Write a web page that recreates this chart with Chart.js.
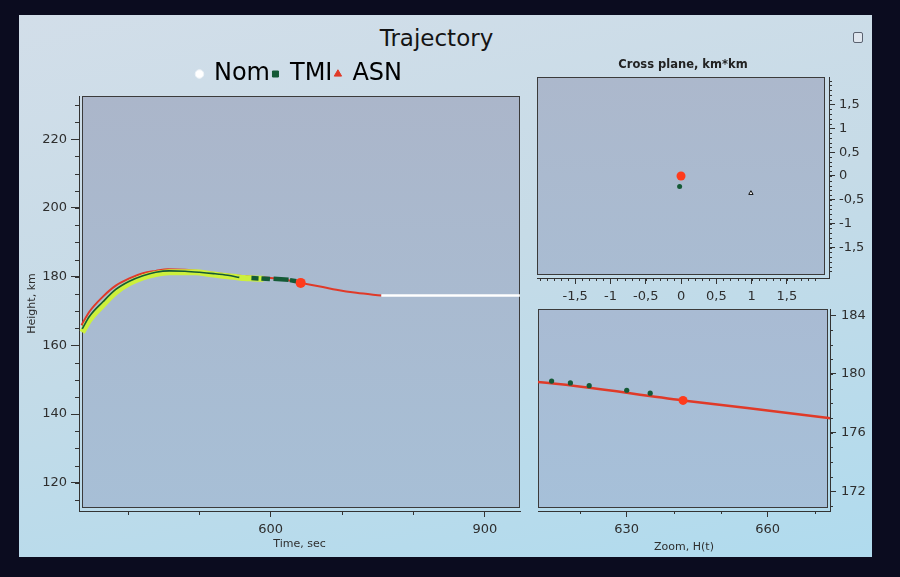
<!DOCTYPE html>
<html>
<head>
<meta charset="utf-8">
<title>Trajectory</title>
<script src="https://cdn.jsdelivr.net/npm/chart.js@4.4.1/dist/chart.umd.min.js"></script>
<style>
  html, body { margin: 0; padding: 0; }
  body { width: 900px; height: 577px; background: #0b0c1f; position: relative; overflow: hidden; font-family: "DejaVu Sans", sans-serif; }
  #screen { position: absolute; left: 19px; top: 15px; width: 853px; height: 542px;
            background: linear-gradient(168deg, #d2dee9 0%, #c6dbe7 45%, #b0dbee 100%); }
  #title { position: absolute; left: 0; width: 873px; top: 27px; text-align: center;
           font-size: 23px; line-height: 23px; color: #141414; }
  #restore { position: absolute; left: 853px; top: 32px; width: 8px; height: 9px;
             border: 1px solid #5a6270; border-radius: 2px; background: #dfe6ee; }
  canvas { position: absolute; }
</style>
</head>
<body>
<div id="screen"></div>
<div id="title">Trajectory</div>
<div id="restore"></div>
<canvas id="mainChart" width="540" height="577" style="left:0;top:0"></canvas>
<canvas id="crossChart" width="370" height="280" style="left:530px;top:40px"></canvas>
<canvas id="zoomChart" width="370" height="289" style="left:530px;top:288px"></canvas>
<script>
// values (time in sec, height in km)
const nomTime = [755, 949];
const nomHeight = [174.5, 174.5];

const asnTime = [335, 346, 365, 383, 402, 421, 439, 456, 480, 520, 560, 600, 611, 642, 673, 692, 720, 755];
const asnHeight = [165.9, 169.8, 174.2, 177.4, 179.5, 181.0, 181.7, 182.2, 182.0, 181.1, 180.2, 179.6, 179.45, 178.2, 177.0, 176.2, 175.3, 174.5];
const asnNowTime = [642];
const asnNowHeight = [178.2];

// null = gap in the track
const tmiTime = [336, 346, 365, 383, 402, 421, 439, 458, 480, 500, 520, 540, 556, 565, 573, 583, 585, 587, 599, 601, 604, 625, 626, 627, 636];
const tmiHeight = [164.8, 168.4, 172.7, 176.3, 178.7, 180.3, 181.3, 181.7, 181.6, 181.3, 180.9, 180.4, 179.8, null, 179.6, 179.5, null, 179.5, 179.3, null, 179.4, 179.1, null, 179.0, 178.7];

const bandTime = [336, 346, 365, 383, 402, 421, 439, 458, 477, 495, 514, 533, 551, 563, 575, 590];
const bandHeight = [163.8, 167.4, 171.8, 175.5, 178.1, 179.8, 180.8, 181.3, 181.3, 181.3, 180.8, 180.3, 179.9, 179.6, 179.5, 179.4];

const zoomTmiTime = [614, 618, 622, 630, 635];
const zoomTmiHeight = [179.52, 179.39, 179.2, 178.89, 178.69];

const crossAsnX = [0], crossAsnY = [0];
const crossTmiX = [-0.02], crossTmiY = [-0.22];
const crossNomX = [0.99], crossNomY = [-0.36];

// tick labels
const mainTimeTicks = [600, 900];
const mainTimeMinor = [400, 500, 700, 800];
const mainHeightTicks = [120, 140, 160, 180, 200, 220];
const zoomTimeTicks = [630, 660];
const zoomTimeMinor = [620, 640, 650, 670];
const zoomHeightTicks = [172, 176, 180, 184];
const crossTicks = [-1.5, -1, -0.5, 0, 0.5, 1, 1.5];

function steps(from, to, step) {
  const out = [];
  for (let v = from; v <= to + 1e-9; v += step) out.push(Math.round(v * 1000) / 1000);
  return out;
}
function xy(xs, ys) {
  return xs.map((x, i) => ({ x: x, y: ys[i] }));
}

Chart.defaults.font.family = '"DejaVu Sans", sans-serif';
Chart.defaults.color = '#2e2e2e';
Chart.defaults.animation = false;
Chart.defaults.plugins.tooltip.enabled = false;

const RED = '#e03a28', DOT = '#ff3b1c', GREEN = '#145a36', LIME = '#cdf03c';

// plot background + frame, slightly inset from the axis lines
function panel(o) {
  return {
    id: 'panel',
    beforeDraw(chart) {
      const { ctx, chartArea: a } = chart;
      const l = a.left + (o.inL || 0), r = a.right - (o.inR || 0);
      const t = a.top, b = a.bottom - (o.inB || 0);
      const g = ctx.createLinearGradient(0, t, 0, b);
      g.addColorStop(0, o.top);
      g.addColorStop(1, o.bottom);
      ctx.save();
      ctx.fillStyle = g;
      ctx.fillRect(l, t, r - l, b - t);
      ctx.strokeStyle = '#3b3b3b';
      ctx.lineWidth = 1;
      ctx.strokeRect(l + 0.5, t + 0.5, r - l - 1, b - t - 1);
      ctx.restore();
    }
  };
}

// short unlabeled ticks
function minorTicks(map, len) {
  return {
    id: 'minorTicks',
    afterDraw(chart) {
      const ctx = chart.ctx;
      ctx.save();
      ctx.strokeStyle = '#333';
      ctx.lineWidth = 1;
      ctx.beginPath();
      Object.keys(map).forEach(id => {
        const s = chart.scales[id];
        map[id].forEach(v => {
          const p = Math.round(s.getPixelForValue(v)) + 0.5;
          if (s.position === 'bottom') { ctx.moveTo(p, s.top); ctx.lineTo(p, s.top + len); }
          else if (s.position === 'left') { ctx.moveTo(s.right, p); ctx.lineTo(s.right - len, p); }
          else { ctx.moveTo(s.left, p); ctx.lineTo(s.left + len, p); }
        });
      });
      ctx.stroke();
      ctx.restore();
    }
  };
}

function axis(opts) {
  return Object.assign({
    type: 'linear',
    ticks: { autoSkip: false, maxRotation: 0, padding: 5, color: '#2e2e2e', font: { size: 13 } },
    grid: { drawOnChartArea: false, tickLength: 6, color: '#333' },
    border: { color: '#333', width: 1 }
  }, opts);
}
function fixTicks(list) {
  return s => { s.ticks = list.map(v => ({ value: v })); };
}

// main trajectory chart
new Chart(document.getElementById('mainChart'), {
  type: 'line',
  data: {
    datasets: [
      { label: 'ASN now', order: 0, data: xy(asnNowTime, asnNowHeight), showLine: false,
        pointRadius: 5, pointBackgroundColor: DOT, pointBorderWidth: 0 },
      { label: 'TMI', order: 1, data: xy(tmiTime, tmiHeight), borderColor: GREEN, borderWidth: 1.6,
        pointRadius: 0, cubicInterpolationMode: 'monotone', spanGaps: false,
        segment: { borderWidth: c => (c.p0.parsed.x >= 570 ? 4.5 : 1.6) } },
      { label: 'band', order: 2, data: xy(bandTime, bandHeight), borderColor: LIME, borderWidth: 6,
        pointRadius: 0, cubicInterpolationMode: 'monotone' },
      { label: 'Nom', order: 3, data: xy(nomTime, nomHeight), borderColor: '#ffffff', borderWidth: 2.5, pointRadius: 0 },
      { label: 'ASN', order: 4, data: xy(asnTime, asnHeight), borderColor: RED, borderWidth: 2,
        pointRadius: 0, cubicInterpolationMode: 'monotone' }
    ]
  },
  options: {
    responsive: false,
    layout: { padding: { left: 26, right: 20, top: 59, bottom: 26 } },
    scales: {
      x: axis({
        min: 331.5, max: 949.2,
        afterBuildTicks: fixTicks(mainTimeTicks),
        afterFit: s => { s.height = 40; },
        title: { display: true, text: 'Time, sec', font: { size: 11 }, padding: 0, color: '#2e2e2e' }
      }),
      y: axis({
        min: 111.8, max: 232.6,
        afterBuildTicks: fixTicks(mainHeightTicks),
        afterFit: s => { s.width = 53; },
        ticks: { autoSkip: false, padding: 4, color: '#2e2e2e', font: { size: 13 } },
        grid: { drawOnChartArea: false, tickLength: 8, color: '#333' },
        title: { display: true, text: 'Height, km', font: { size: 11 }, padding: 0, color: '#2e2e2e' }
      })
    },
    plugins: {
      legend: {
        position: 'top', fullSize: false,
        labels: {
          usePointStyle: true, boxHeight: 6, boxWidth: 5, padding: 3, color: '#121212',
          font: { size: 24 },
          generateLabels: () => [
            { text: 'Nom', fillStyle: '#ffffff', strokeStyle: '#eef3f7', lineWidth: 1, pointStyle: 'circle', hidden: false },
            { text: 'TMI', fillStyle: GREEN, strokeStyle: GREEN, lineWidth: 1, pointStyle: 'rect', hidden: false },
            { text: 'ASN', fillStyle: RED, strokeStyle: RED, lineWidth: 1, pointStyle: 'triangle', hidden: false }
          ]
        }
      }
    }
  },
  plugins: [
    panel({ inL: 3, inB: 3, top: '#abb6ca', bottom: '#a7bfd6' }),
    minorTicks({ x: mainTimeMinor, y: steps(115, 230, 5) }, 4)
  ]
});

// cross plane
const crossFmt = v => String(v).replace('.', ',');
new Chart(document.getElementById('crossChart'), {
  type: 'scatter',
  data: {
    datasets: [
      { label: 'ASN', data: xy(crossAsnX, crossAsnY), pointRadius: 4.5, pointBackgroundColor: DOT, pointBorderWidth: 0 },
      { label: 'TMI', data: xy(crossTmiX, crossTmiY), pointRadius: 2.5, pointBackgroundColor: GREEN, pointBorderWidth: 0 },
      { label: 'Nom', data: xy(crossNomX, crossNomY), pointStyle: 'triangle', pointRadius: 2.5,
        pointBackgroundColor: '#ffffff', pointBorderColor: '#111', pointBorderWidth: 1 }
    ]
  },
  options: {
    responsive: false,
    layout: { padding: { left: 7, right: 31, top: 18, bottom: 12 } },
    scales: {
      x: axis({
        min: -2.04, max: 2.096,
        afterBuildTicks: fixTicks(crossTicks),
        afterFit: s => { s.height = 30; },
        ticks: { autoSkip: false, maxRotation: 0, padding: 5, color: '#2e2e2e', font: { size: 13 }, callback: crossFmt }
      }),
      y: axis({
        position: 'right',
        min: -2.138, max: 2.075,
        afterBuildTicks: fixTicks(crossTicks),
        afterFit: s => { s.width = 40; },
        ticks: { autoSkip: false, padding: 4, color: '#2e2e2e', font: { size: 13 }, callback: crossFmt }
      })
    },
    plugins: {
      legend: { display: false },
      title: { display: true, text: 'Cross plane, km*km', fullSize: false, color: '#222',
               font: { size: 11.5, weight: 'bold' }, padding: { top: 0, bottom: 5.2 } }
    }
  },
  plugins: [
    panel({ inR: 4, inB: 3, top: '#acb8cc', bottom: '#a9bcd2' }),
    minorTicks({ x: steps(-2, 1.9, 0.1), y: steps(-2, 2, 0.1) }, 3)
  ]
});

// zoom of H(t) around the current point
new Chart(document.getElementById('zoomChart'), {
  type: 'line',
  data: {
    datasets: [
      { label: 'ASN now', order: 0, data: xy(asnNowTime, asnNowHeight), showLine: false,
        pointRadius: 4.5, pointBackgroundColor: DOT, pointBorderWidth: 0 },
      { label: 'TMI', order: 1, data: xy(zoomTmiTime, zoomTmiHeight), showLine: false,
        pointRadius: 2.6, pointBackgroundColor: GREEN, pointBorderWidth: 0 },
      { label: 'ASN', order: 2, data: xy(asnTime, asnHeight), borderColor: RED, borderWidth: 2.5,
        pointRadius: 0, cubicInterpolationMode: 'monotone' }
    ]
  },
  options: {
    responsive: false,
    layout: { padding: { left: 8, right: 30, top: 21, bottom: 23.7 } },
    scales: {
      x: axis({
        min: 611.1, max: 673.3,
        afterBuildTicks: fixTicks(zoomTimeTicks),
        afterFit: s => { s.height = 42.3; },
        title: { display: true, text: 'Zoom, H(t)', font: { size: 11 }, padding: 0, color: '#2e2e2e' }
      }),
      y: axis({
        position: 'right',
        min: 170.66, max: 184.43,
        afterBuildTicks: fixTicks(zoomHeightTicks),
        afterFit: s => { s.width = 40; }
      })
    },
    plugins: { legend: { display: false } }
  },
  plugins: [
    panel({ inR: 2, inB: 3, top: '#a9bbd3', bottom: '#a6c0d9' }),
    minorTicks({ x: zoomTimeMinor, y: steps(171, 184, 1) }, 3)
  ]
});
</script>
</body>
</html>
